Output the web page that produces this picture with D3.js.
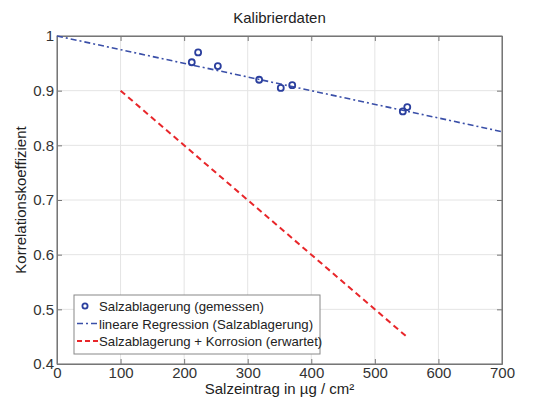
<!DOCTYPE html>
<html>
<head>
<meta charset="utf-8">
<script src="https://cdn.jsdelivr.net/npm/d3@7"></script>
<style>
  body { margin: 0; background: #fff; }
  text { font-family: "Liberation Sans", Arial, sans-serif; fill: #222; }
</style>
</head>
<body>
<div id="chart"></div>
<script>
const width = 550;
const height = 399;

// measured points
const measX = [212, 222, 253, 318, 352, 370, 544, 551];
const measY = [0.952, 0.970, 0.945, 0.920, 0.905, 0.910, 0.862, 0.870];

// lines
const regX = [0, 700];
const regY = [1.0, 0.825];
const expX = [100, 550];
const expY = [0.9, 0.45];

const xTicks = [0, 100, 200, 300, 400, 500, 600, 700];
const yTicks = [0.4, 0.5, 0.6, 0.7, 0.8, 0.9, 1];

const margin = { top: 36, right: 48, bottom: 35, left: 57 };

const svg = d3.select("#chart")
  .append("svg")
  .attr("width", width)
  .attr("height", height);

const x = d3.scaleLinear().domain([0, 700]).range([margin.left, width - margin.right]);
const y = d3.scaleLinear().domain([0.4, 1]).range([height - margin.bottom, margin.top]);

// grid
svg.append("g")
  .selectAll("line")
  .data(xTicks)
  .join("line")
  .attr("x1", d => x(d)).attr("x2", d => x(d))
  .attr("y1", y(0.4)).attr("y2", y(1))
  .attr("stroke", "#e4e4e4");
svg.append("g")
  .selectAll("line")
  .data(yTicks)
  .join("line")
  .attr("y1", d => y(d)).attr("y2", d => y(d))
  .attr("x1", x(0)).attr("x2", x(700))
  .attr("stroke", "#e4e4e4");

// axes, ticks pointing inward
const xAxis = svg.append("g")
  .attr("transform", `translate(0,${y(0.4)})`)
  .call(d3.axisBottom(x).tickValues(xTicks).tickSizeInner(-5).tickSizeOuter(0).tickPadding(3));
const yAxis = svg.append("g")
  .attr("transform", `translate(${x(0)},0)`)
  .call(d3.axisLeft(y).tickValues(yTicks).tickSizeInner(-5).tickSizeOuter(0).tickPadding(3)
    .tickFormat(d => d === 1 ? "1" : d3.format(".1f")(d)));

svg.append("g")
  .attr("transform", `translate(0,${y(1)})`)
  .call(d3.axisTop(x).tickValues(xTicks).tickSizeInner(-5).tickSizeOuter(0).tickFormat(""));
svg.append("g")
  .attr("transform", `translate(${x(700)},0)`)
  .call(d3.axisRight(y).tickValues(yTicks).tickSizeInner(-5).tickSizeOuter(0).tickFormat(""));

svg.selectAll(".domain").attr("stroke", "#777");
svg.selectAll(".tick line").attr("stroke", "#777");
xAxis.selectAll("text").attr("font-size", 15).style("fill", "#333");
yAxis.selectAll("text").attr("font-size", 15).style("fill", "#333");

// frame
svg.append("rect")
  .attr("x", x(0)).attr("y", y(1))
  .attr("width", x(700) - x(0)).attr("height", y(0.4) - y(1))
  .attr("fill", "none").attr("stroke", "#777");

// regression line
const line = d3.line().x(d => x(d[0])).y(d => y(d[1]));
svg.append("path")
  .datum(d3.zip(regX, regY))
  .attr("d", line)
  .attr("fill", "none")
  .attr("stroke", "#3a4fa8")
  .attr("stroke-width", 1.6)
  .attr("stroke-dasharray", "6,3,2,3");

// expected line
svg.append("path")
  .datum(d3.zip(expX, expY))
  .attr("d", line)
  .attr("fill", "none")
  .attr("stroke", "#e8262a")
  .attr("stroke-width", 2)
  .attr("stroke-dasharray", "6,4");

// measured points
svg.append("g")
  .selectAll("circle")
  .data(d3.zip(measX, measY))
  .join("circle")
  .attr("cx", d => x(d[0]))
  .attr("cy", d => y(d[1]))
  .attr("r", 3)
  .attr("fill", "none")
  .attr("stroke", "#2b3f9e")
  .attr("stroke-width", 1.8);

// title and labels
svg.append("text")
  .attr("x", (x(0) + x(700)) / 2)
  .attr("y", 23)
  .attr("text-anchor", "middle")
  .attr("font-size", 15)
  .text("Kalibrierdaten");

svg.append("text")
  .attr("x", (x(0) + x(700)) / 2)
  .attr("y", 394)
  .attr("text-anchor", "middle")
  .attr("font-size", 15)
  .text("Salzeintrag in µg / cm²");

svg.append("text")
  .attr("transform", `translate(26,${(y(0.4) + y(1)) / 2}) rotate(-90)`)
  .attr("text-anchor", "middle")
  .attr("font-size", 15)
  .text("Korrelationskoeffizient");

// legend
const lg = svg.append("g").attr("transform", "translate(74,295)");
lg.append("rect")
  .attr("width", 246).attr("height", 59)
  .attr("fill", "#fff").attr("stroke", "#888");

const legItems = ["Salzablagerung (gemessen)", "lineare Regression (Salzablagerung)", "Salzablagerung + Korrosion (erwartet)"];
const rows = lg.selectAll(".row")
  .data(legItems)
  .join("g")
  .attr("class", "row")
  .attr("transform", (d, i) => `translate(0,${11 + i * 17.5})`);

rows.append("text")
  .attr("x", 25).attr("y", 5)
  .attr("font-size", 13.2)
  .text(d => d);

lg.append("circle").attr("cx", 11).attr("cy", 11).attr("r", 2.6)
  .attr("fill", "none").attr("stroke", "#2b3f9e").attr("stroke-width", 1.8);
lg.append("line").attr("x1", 3).attr("x2", 24).attr("y1", 28.5).attr("y2", 28.5)
  .attr("stroke", "#3a4fa8").attr("stroke-width", 1.6).attr("stroke-dasharray", "6,3,2,3");
lg.append("line").attr("x1", 3).attr("x2", 24).attr("y1", 46).attr("y2", 46)
  .attr("stroke", "#e8262a").attr("stroke-width", 2).attr("stroke-dasharray", "5,3");
</script>
</body>
</html>
